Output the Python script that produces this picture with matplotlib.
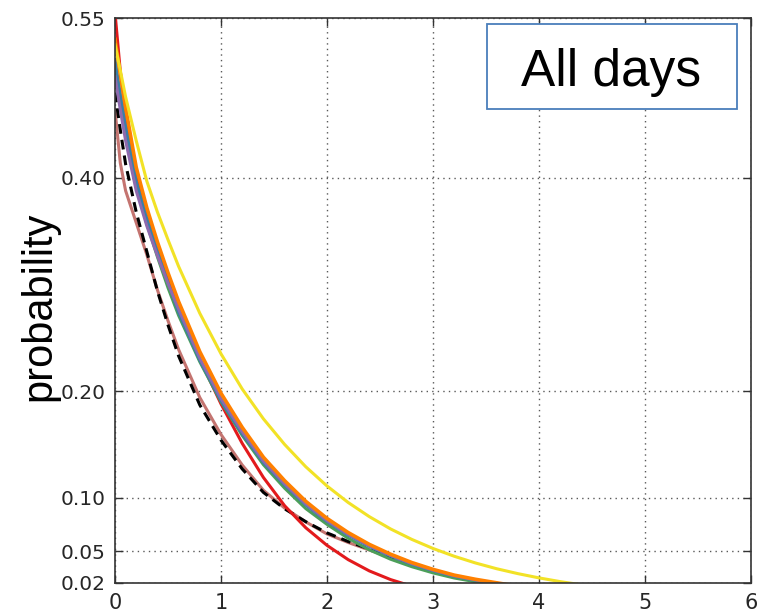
import matplotlib
matplotlib.use("Agg")
import matplotlib.pyplot as plt
from matplotlib.patches import Rectangle

# ---- data ----
x_vals = [0, 0.05, 0.1, 0.2, 0.3, 0.4, 0.5, 0.6, 0.8, 1.0, 1.2, 1.4, 1.6, 1.8,
          2.0, 2.2, 2.4, 2.6, 2.8, 3.0, 3.2, 3.4, 3.6, 3.8, 4.0, 4.2, 4.4]

brown = [0.464, 0.414, 0.388, 0.358, 0.328, 0.295, 0.266, 0.239, 0.194, 0.1593, 0.1307,
         0.107, 0.0903, 0.0773, 0.0660, 0.0580, 0.0509, 0.0440, 0.0372, 0.0305, 0.0260,
         0.0224, 0.0194, 0.0166, 0.0142, 0.0122, 0.0105]
black = [0.480, 0.445, 0.413, 0.368, 0.331, 0.294, 0.262, 0.233, 0.187, 0.154, 0.127,
         0.105, 0.0896, 0.0775, 0.067, 0.0589, 0.0519, 0.0447, 0.0381, 0.031, 0.0265,
         0.0228, 0.0197, 0.017, 0.0146, 0.0125, 0.0108]
red = [0.555, 0.500, 0.462, 0.405, 0.370, 0.337, 0.306, 0.278, 0.230, 0.188, 0.151,
       0.119, 0.0925, 0.0718, 0.0553, 0.0419, 0.0313, 0.0232, 0.0170, 0.0124, 0.0090,
       0.0070, 0.0055, 0.0045, 0.0038, 0.0032, 0.0028]
green = [0.500, 0.469, 0.440, 0.392, 0.357, 0.326, 0.297, 0.271, 0.2275, 0.190, 0.1585,
         0.131, 0.109, 0.0898, 0.0750, 0.0619, 0.0511, 0.0423, 0.0353, 0.0295, 0.0247,
         0.0212, 0.0182, 0.0153, 0.0131, 0.0113, 0.0097]
teal = [0.511, 0.479, 0.449, 0.397, 0.362, 0.331, 0.302, 0.274, 0.229, 0.191, 0.160,
        0.133, 0.112, 0.0932, 0.0778, 0.0649, 0.0542, 0.0454, 0.0378, 0.0317, 0.0264,
        0.0227, 0.0195, 0.0164, 0.0140, 0.0120, 0.0104]
purple = [0.495, 0.464, 0.435, 0.388, 0.355, 0.327, 0.301, 0.277, 0.231, 0.193, 0.162,
          0.1345, 0.113, 0.0942, 0.0786, 0.0656, 0.0548, 0.0458, 0.0382, 0.0320, 0.0267,
          0.0229, 0.0197, 0.0166, 0.0141, 0.0122, 0.0105]
orange = [0.530, 0.497, 0.466, 0.410, 0.372, 0.340, 0.311, 0.284, 0.237, 0.198, 0.166,
          0.138, 0.116, 0.0966, 0.0806, 0.0673, 0.0562, 0.0470, 0.0392, 0.0328, 0.0274,
          0.0235, 0.0202, 0.0170, 0.0145, 0.0125, 0.0108]
yellow = [0.525, 0.501, 0.476, 0.435, 0.397, 0.368, 0.342, 0.317, 0.273, 0.235, 0.202,
          0.174, 0.150, 0.129, 0.111, 0.0955, 0.0822, 0.0707, 0.0609, 0.0524, 0.0451,
          0.0388, 0.0334, 0.0288, 0.0248, 0.0213, 0.0183]

x_ticks = [0, 1, 2, 3, 4, 5, 6]
y_ticks = [0.02, 0.05, 0.10, 0.20, 0.40, 0.55]
y_tick_labels = ["0.02", "0.05", "0.10", "0.20", "0.40", "0.55"]
y_label = "probability"
box_text = "All days"

# ---- figure ----
W, H = 766, 613
fig = plt.figure(figsize=(W / 100, H / 100), dpi=100)
ax = fig.add_axes([115 / W, 1 - 583 / H, (751 - 115) / W, (583 - 18) / H])

lw = 2.2
ax.plot(x_vals, brown, color="#c47470", lw=lw)
ax.plot(x_vals, black, color="black", lw=lw, linestyle=(0, (3.2, 2.0)))
ax.plot(x_vals, red, color="#e31a1c", lw=lw)
ax.plot(x_vals, green, color="#4c9f5a", lw=lw)
ax.plot(x_vals, teal, color="#3a7fa8", lw=lw)
ax.plot(x_vals, purple, color="#8e6aae", lw=lw)
ax.plot(x_vals, orange, color="#ff8000", lw=2.6)
ax.plot(x_vals, yellow, color="#f2e226", lw=lw)

ax.set_xlim(0, 6)
ax.set_ylim(0.02, 0.55)
ax.set_xticks(x_ticks)
ax.set_xticklabels([str(t) for t in x_ticks])
ax.set_yticks(y_ticks)
ax.set_yticklabels(y_tick_labels)

ax.grid(True, color="0.35", linestyle=(0, (1, 3)), linewidth=1.0)
ax.set_axisbelow(True)

ax.tick_params(direction="in", length=5.5, width=1.0, color="0.2",
               top=True, right=True, labelcolor="0.15")
ax.tick_params(axis="x", labelsize=15, pad=7)
ax.tick_params(axis="y", labelsize=14.5, pad=7)
for lab in ax.get_xticklabels() + ax.get_yticklabels():
    lab.set_family("DejaVu Sans")
for sp in ax.spines.values():
    sp.set_linewidth(1.2)
    sp.set_color("0.2")

# y label (separate text, Arial-like)
fig.text(39 / W, 1 - 306 / H, y_label, rotation=90, ha="center", va="center",
         fontsize=30, family="Liberation Sans", color="black")

# framed "All days" box
rect = Rectangle((486.7 / W, 1 - 109 / H), 250 / W, 85 / H, transform=fig.transFigure,
                 facecolor="white", edgecolor="#4a7ebb", linewidth=1.3, zorder=5)
fig.add_artist(rect)
fig.text(611 / W, 1 - 86 / H, box_text, ha="center", va="baseline",
         fontsize=37, family="Liberation Sans", color="black", zorder=6)

fig.savefig("out.png", dpi=100)
